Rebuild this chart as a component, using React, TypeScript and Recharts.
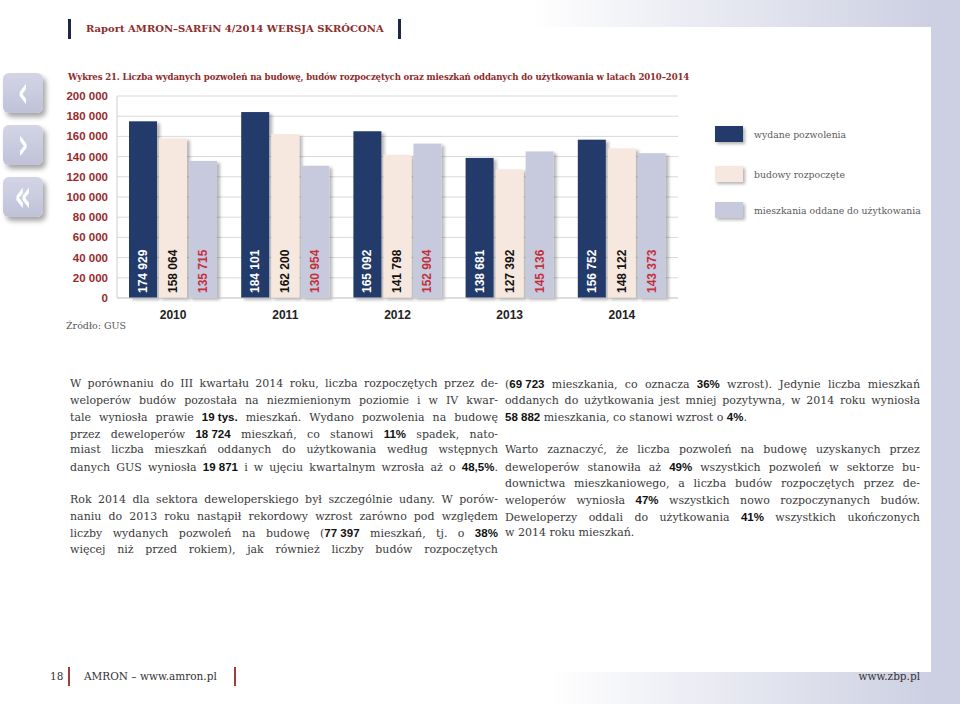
import React from 'react';
import { BarChart, Bar, XAxis, YAxis, CartesianGrid, LabelList } from 'recharts';

const YEARS = ['2010', '2011', '2012', '2013', '2014'];
const PERMITS = [174929, 184101, 165092, 138681, 156752];
const STARTS = [158064, 162200, 141798, 127392, 148122];
const COMPLETED = [135715, 130954, 152904, 145136, 143373];
const Y_TICKS = [0, 20000, 40000, 60000, 80000, 100000, 120000, 140000, 160000, 180000, 200000];
const SERIES_NAMES = ['wydane pozwolenia', 'budowy rozpoczęte', 'mieszkania oddane do użytkowania'];

const NAVY = '#233a6a';
const BEIGE = '#f6e8de';
const LAVENDER = '#c7cadd';
const DARK_RED = '#8e2b2b';
const PANEL = '#cdd0e2';

const SERIF = "'DejaVu Serif', serif";
const SANS = "'Liberation Sans', Arial, sans-serif";

const NB = '\u00a0';

// body text, one entry per printed line; **...** marks bold runs
const LEFT_P1 = [
  'W porównaniu do III kwartału 2014 roku, liczba rozpoczętych przez de-',
  'weloperów budów pozostała na niezmienionym poziomie i w IV kwar-',
  `tale wyniosła prawie **19${NB}tys.** mieszkań. Wydano pozwolenia na budowę`,
  `przez deweloperów **18${NB}724** mieszkań, co stanowi **11%** spadek, nato-`,
  'miast liczba mieszkań oddanych do użytkowania według wstępnych',
  `danych GUS wyniosła **19${NB}871** i w ujęciu kwartalnym wzrosła aż o **48,5%**.`,
];
const LEFT_P2 = [
  'Rok 2014 dla sektora deweloperskiego był szczególnie udany. W porów-',
  'naniu do 2013 roku nastąpił rekordowy wzrost zarówno pod względem',
  `liczby wydanych pozwoleń na budowę (**77${NB}397** mieszkań, tj. o **38%**`,
  'więcej niż przed rokiem), jak również liczby budów rozpoczętych',
];
const RIGHT_P1 = [
  `(**69${NB}723** mieszkania, co oznacza **36%** wzrost). Jedynie liczba mieszkań`,
  'oddanych do użytkowania jest mniej pozytywna, w 2014 roku wyniosła',
  `**58${NB}882** mieszkania, co stanowi wzrost o **4%**.`,
];
const RIGHT_P2 = [
  'Warto zaznaczyć, że liczba pozwoleń na budowę uzyskanych przez',
  'deweloperów stanowiła aż **49%** wszystkich pozwoleń w sektorze bu-',
  'downictwa mieszkaniowego, a liczba budów rozpoczętych przez de-',
  'weloperów wyniosła **47%** wszystkich nowo rozpoczynanych budów.',
  'Deweloperzy oddali do użytkowania **41%** wszystkich ukończonych',
  'w 2014 roku mieszkań.',
];

const data = YEARS.map((year, i) => ({
  year,
  permits: PERMITS[i],
  starts: STARTS[i],
  completed: COMPLETED[i],
}));

const fmt = (n: number) => String(n).replace(/\B(?=(\d{3})+(?!\d))/g, ' ');

const ShadowBar = (props: any) => {
  const { x, y, width, height, fill } = props;
  return <rect x={x} y={y} width={width} height={height} fill={fill} filter="url(#barShadow)" />;
};

const makeLabel = (color: string) => (props: any) => {
  const x = Number(props.x);
  const y = Number(props.y);
  const w = Number(props.width);
  const h = Number(props.height);
  const cx = x + w / 2;
  const by = y + h - 5;
  return (
    <text
      x={cx}
      y={by}
      transform={`rotate(-90 ${cx} ${by})`}
      textAnchor="start"
      dominantBaseline="central"
      fill={color}
      fontSize={12}
      fontWeight={700}
      fontFamily={SANS}
    >
      {fmt(Number(props.value))}
    </text>
  );
};

type Run = { text: string; bold: boolean };

function parseWords(line: string): Run[][] {
  const words: Run[][] = [];
  let cur: Run[] = [];
  let bold = false;
  const parts = line.split('**');
  parts.forEach((part, pi) => {
    if (pi > 0) bold = !bold;
    const pieces = part.split(' ');
    pieces.forEach((piece, k) => {
      if (k > 0) {
        if (cur.length) words.push(cur);
        cur = [];
      }
      if (piece) cur.push({ text: piece, bold });
    });
  });
  if (cur.length) words.push(cur);
  return words;
}

function Word({ runs }: { runs: Run[] }) {
  return (
    <span style={{ whiteSpace: 'nowrap' }}>
      {runs.map((r, i) =>
        r.bold ? (
          <b key={i} style={{ fontFamily: SANS, fontWeight: 700, fontSize: 11.5, color: '#111' }}>{r.text}</b>
        ) : (
          <span key={i}>{r.text}</span>
        )
      )}
    </span>
  );
}

function Paragraph({ lines, left, top, width, lastJustified }: { lines: string[]; left: number; top: number; width: number; lastJustified?: boolean }) {
  return (
    <div style={{ position: 'absolute', left, top, width, fontFamily: SERIF, fontSize: 11, color: '#3a3a3a' }}>
      {lines.map((line, i) => {
        const words = parseWords(line);
        const justify = i < lines.length - 1 || lastJustified;
        return (
          <div
            key={i}
            style={{
              height: 16.6,
              lineHeight: '16.6px',
              display: 'flex',
              alignItems: 'baseline',
              justifyContent: justify ? 'space-between' : 'flex-start',
              gap: justify ? 0 : 3.5,
              whiteSpace: 'nowrap',
            }}
          >
            {words.map((w, k) => (
              <Word key={k} runs={w} />
            ))}
          </div>
        );
      })}
    </div>
  );
}

const NavButton = ({ top, glyph }: { top: number; glyph: string }) => (
  <div
    style={{
      position: 'absolute',
      left: 3,
      top,
      width: 40,
      height: 40,
      borderRadius: 6,
      background: 'linear-gradient(180deg, #d3d5e6 0%, #bfc2d8 100%)',
      boxShadow: '3px 4px 5px rgba(0,0,0,0.35)',
      color: '#fff',
      fontFamily: "'DejaVu Sans', sans-serif",
      fontWeight: 700,
      fontSize: 26,
      lineHeight: '38px',
      textAlign: 'center',
    }}
  >
    <span style={{ display: 'inline-block', transform: 'scale(1, 1.7)' }}>{glyph}</span>
  </div>
);

const LegendItem = ({ top, color, label }: { top: number; color: string; label: string }) => (
  <div style={{ position: 'absolute', left: 715, top, height: 16, display: 'flex', alignItems: 'center' }}>
    <div style={{ width: 28, height: 16, background: color, boxShadow: '2px 2px 3px rgba(0,0,0,0.3)' }} />
    <span style={{ marginLeft: 11, fontFamily: SERIF, fontSize: 9.3, color: '#5a5a5a', whiteSpace: 'nowrap' }}>{label}</span>
  </div>
);

export default function App() {
  return (
    <div style={{ position: 'absolute', left: 0, top: 0, width: 960, height: 704, background: '#fff', overflow: 'hidden' }}>
      <svg width={0} height={0} style={{ position: 'absolute' }}>
        <defs>
          <filter id="barShadow" x="-20%" y="-5%" width="150%" height="115%">
            <feDropShadow dx={3} dy={2} stdDeviation={1.8} floodColor="#000" floodOpacity={0.28} />
          </filter>
        </defs>
      </svg>

      {/* page frame */}
      <div style={{ position: 'absolute', left: 0, top: 0, width: 960, height: 27, background: `linear-gradient(90deg, #fff 0%, #fff 55%, ${PANEL} 97%)` }} />
      <div style={{ position: 'absolute', left: 0, top: 672, width: 960, height: 32, background: `linear-gradient(90deg, #fff 0%, #fff 57%, ${PANEL} 97%)` }} />
      <div style={{ position: 'absolute', left: 931, top: 0, width: 29, height: 704, background: PANEL }} />

      {/* header */}
      <div style={{ position: 'absolute', left: 68, top: 19, width: 3, height: 20, background: '#1d2747' }} />
      <div style={{ position: 'absolute', left: 398, top: 19, width: 3, height: 20, background: '#1d2747' }} />
      <div style={{ position: 'absolute', left: 86, top: 20, lineHeight: '18px', fontFamily: SERIF, fontWeight: 700, fontSize: 10, color: DARK_RED, whiteSpace: 'nowrap' }}>
        Raport AMRON–SARFiN 4/2014 WERSJA SKRÓCONA
      </div>

      <NavButton top={73} glyph="‹" />
      <NavButton top={125} glyph="›" />
      <NavButton top={177} glyph="«" />

      <div style={{ position: 'absolute', left: 68, top: 70, lineHeight: '14px', fontFamily: SERIF, fontWeight: 700, fontSize: 8.6, letterSpacing: -0.15, color: DARK_RED, whiteSpace: 'nowrap' }}>
        Wykres 21. Liczba wydanych pozwoleń na budowę, budów rozpoczętych oraz mieszkań oddanych do użytkowania w latach 2010–2014
      </div>

      <div style={{ position: 'absolute', left: 60, top: 80 }}>
        <BarChart width={640} height={260} data={data} margin={{ top: 16, right: 22, bottom: 12, left: 0 }} barSize={28} barGap={2}>
          <CartesianGrid vertical={false} stroke="#d9d9d9" />
          <XAxis
            dataKey="year"
            height={30}
            axisLine={{ stroke: '#cfcfcf' }}
            tickLine={false}
            tickSize={0}
            tickMargin={12}
            tick={{ fontFamily: SANS, fontSize: 12, fontWeight: 700, fill: '#222' }}
          />
          <YAxis
            width={57}
            domain={[0, 200000]}
            ticks={Y_TICKS}
            interval={0}
            axisLine={{ stroke: '#cfcfcf' }}
            tickLine={false}
            tickSize={0}
            tickMargin={9}
            tickFormatter={fmt}
            tick={{ fontFamily: SANS, fontSize: 11.5, fontWeight: 700, fill: '#9b2a2c' }}
          />
          <Bar dataKey="permits" name={SERIES_NAMES[0]} fill={NAVY} shape={ShadowBar} isAnimationActive={false}>
            <LabelList dataKey="permits" content={makeLabel('#ffffff')} />
          </Bar>
          <Bar dataKey="starts" name={SERIES_NAMES[1]} fill={BEIGE} shape={ShadowBar} isAnimationActive={false}>
            <LabelList dataKey="starts" content={makeLabel('#111111')} />
          </Bar>
          <Bar dataKey="completed" name={SERIES_NAMES[2]} fill={LAVENDER} shape={ShadowBar} isAnimationActive={false}>
            <LabelList dataKey="completed" content={makeLabel('#c3303c')} />
          </Bar>
        </BarChart>
      </div>

      <LegendItem top={126} color={NAVY} label={SERIES_NAMES[0]} />
      <LegendItem top={166} color={BEIGE} label={SERIES_NAMES[1]} />
      <LegendItem top={202} color={LAVENDER} label={SERIES_NAMES[2]} />

      <div style={{ position: 'absolute', left: 66, top: 319, lineHeight: '14px', fontFamily: SERIF, fontSize: 9.5, color: '#555' }}>
        Źródło: GUS
      </div>

      <Paragraph lines={LEFT_P1} left={70} top={376} width={428} lastJustified />
      <Paragraph lines={LEFT_P2} left={70} top={376 + 16.6 * 7} width={428} lastJustified />
      <Paragraph lines={RIGHT_P1} left={505} top={376} width={415} />
      <Paragraph lines={RIGHT_P2} left={505} top={376 + 16.6 * 4} width={415} />

      {/* footer */}
      <div style={{ position: 'absolute', left: 50, top: 669, lineHeight: '14px', fontFamily: SERIF, fontSize: 10.5, color: '#333' }}>18</div>
      <div style={{ position: 'absolute', left: 68, top: 667, width: 1.5, height: 19, background: '#a33a3a' }} />
      <div style={{ position: 'absolute', left: 84, top: 669, lineHeight: '14px', fontFamily: SERIF, fontSize: 10.5, color: '#333', whiteSpace: 'nowrap' }}>
        AMRON – www.amron.pl
      </div>
      <div style={{ position: 'absolute', left: 234, top: 667, width: 1.5, height: 19, background: '#a33a3a' }} />
      <div style={{ position: 'absolute', right: 40, top: 669, lineHeight: '14px', fontFamily: SERIF, fontSize: 10.5, color: '#333', whiteSpace: 'nowrap' }}>
        www.zbp.pl
      </div>
    </div>
  );
}
